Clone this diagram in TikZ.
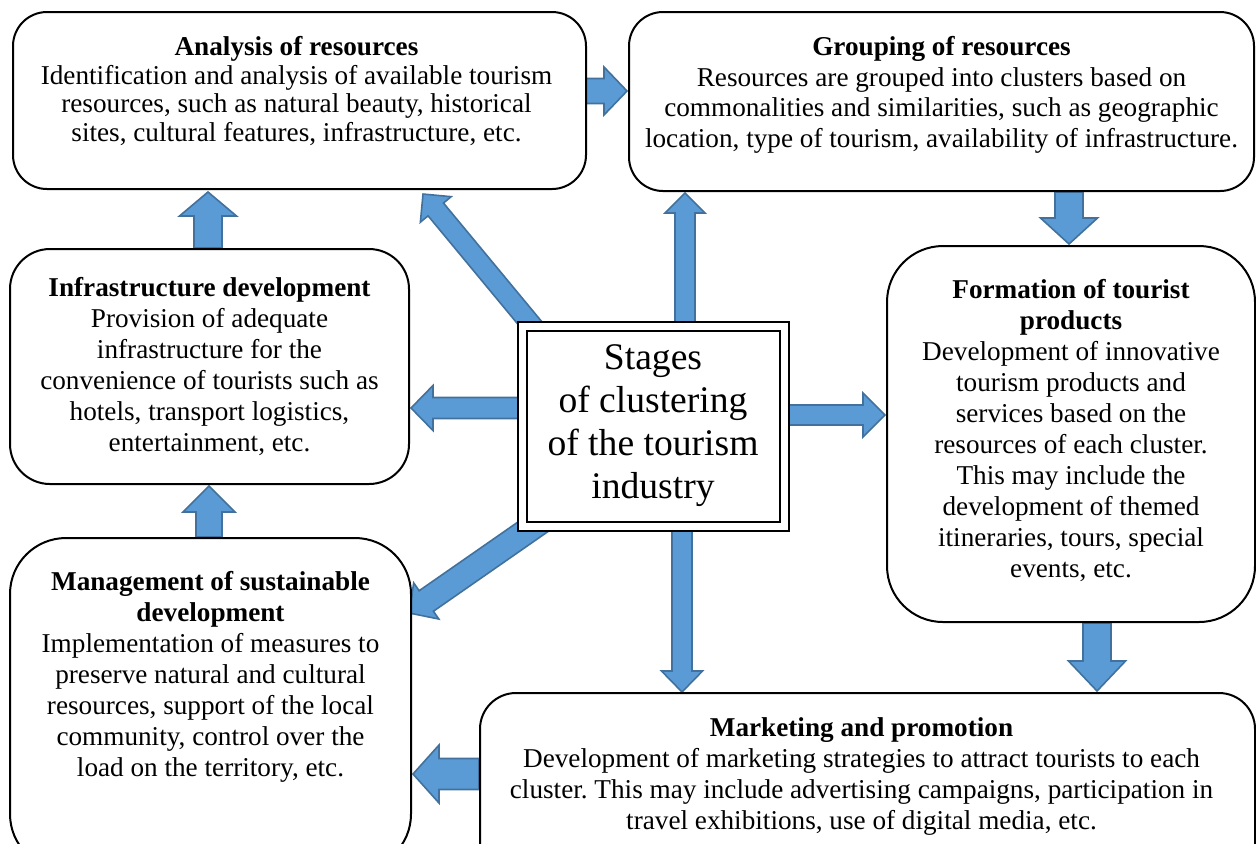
\documentclass[tikz,border=0pt]{standalone}
\usepackage{fontspec}
\setmainfont{Liberation Serif}
\usetikzlibrary{calc,backgrounds}
\frenchspacing

\definecolor{arrowfill}{HTML}{5B9BD5}
\definecolor{arrowline}{HTML}{41719C}

\tikzset{
  stagebox/.style={draw, line width=1pt, fill=white, rounded corners=#1, inner sep=0pt},
  stagetext/.style={anchor=north, align=center, inner sep=0pt, font=\fontsize{13.6}{#1}\selectfont},
  stagetext/.default=15.5pt,
  arrshaft/.store in=\arrshaftw, arrhead/.store in=\arrheadw, arrlen/.store in=\arrlenw,
  arrshaft=5pt, arrhead=10pt, arrlen=10pt,
  blockarrow/.style={draw=arrowline, fill=arrowfill, line width=0.8pt, line join=miter,
    to path={let \p1=(\tikztostart), \p2=(\tikztotarget),
      \n1={atan2(\y2-\y1,\x2-\x1)}, \n2={veclen(\x2-\x1,\y2-\y1)} in
      ([shift={(\p1)},rotate=\n1]0pt,-\arrshaftw)
      -- ([shift={(\p1)},rotate=\n1]\n2-\arrlenw+0pt,-\arrshaftw)
      -- ([shift={(\p1)},rotate=\n1]\n2-\arrlenw+0pt,-\arrheadw)
      -- ([shift={(\p1)},rotate=\n1]\n2+0pt,0pt)
      -- ([shift={(\p1)},rotate=\n1]\n2-\arrlenw+0pt,\arrheadw)
      -- ([shift={(\p1)},rotate=\n1]\n2-\arrlenw+0pt,\arrshaftw)
      -- ([shift={(\p1)},rotate=\n1]0pt,\arrshaftw) -- cycle}}
}

\begin{document}
\begin{tikzpicture}[x=0.5pt,y=-0.5pt]
  \useasboundingbox (0,0) rectangle (1256,843);
  \clip (0,0) rectangle (1256,843);

  \node[stagebox=17pt, minimum width=286.5pt, minimum height=88.5pt] (ana) at (299.5,100.5) {};
  \node[stagebox=17pt, minimum width=312.5pt, minimum height=89.5pt] (grp) at (941.5,101.5) {};
  \node[stagebox=20pt, minimum width=199.5pt, minimum height=117.5pt] (inf) at (209.5,366.5) {};
  \node[stagebox=28pt, minimum width=184pt, minimum height=188pt] (frm) at (1071,434) {};
  \node[stagebox=28pt, minimum width=200.5pt, minimum height=166pt] (mgt) at (210.5,704) {};
  \node[stagebox=18pt, minimum width=387.5pt, minimum height=93.5pt] (mkt) at (867.5,786.5) {};

  \node[draw, double, double distance=3.5pt, line width=1pt, fill=white,
    minimum width=131pt, minimum height=100pt, align=center, inner sep=0pt,
    font=\fontsize{18.8}{21.5}\selectfont] (cen) at (653,426)
    {Stages\\of clustering\\of the tourism\\industry};

  \node[stagetext=14.3pt] (ana-t) at ($(ana.north)+(-3,25)$)
    {\textbf{Analysis of resources}\\Identification and analysis of available tourism\\resources, such as natural beauty, historical\\sites, cultural features, infrastructure, etc.};
  \node[stagetext=15.3pt] (grp-t) at ($(grp.north)+(0,25)$)
    {\textbf{Grouping of resources}\\Resources are grouped into clusters based on\\commonalities and similarities, such as geographic\\location, type of tourism, availability of infrastructure.};
  \node[stagetext] (inf-t) at ($(inf.north)+(0,28.5)$)
    {\textbf{Infrastructure development}\\Provision of adequate\\infrastructure for the\\convenience of tourists such as\\hotels, transport logistics,\\entertainment, etc.};
  \node[stagetext] (frm-t) at ($(frm.north)+(0,33.5)$)
    {\textbf{Formation of tourist}\\\textbf{products}\\Development of innovative\\tourism products and\\services based on the\\resources of each cluster.\\This may include the\\development of themed\\itineraries, tours, special\\events, etc.};
  \node[stagetext] (mgt-t) at ($(mgt.north)+(0,33.5)$)
    {\textbf{Management of sustainable}\\\textbf{development}\\Implementation of measures to\\preserve natural and cultural\\resources, support of the local\\community, control over the\\load on the territory, etc.};
  \node[stagetext] (mkt-t) at ($(mkt.north)+(-6,25)$)
    {\textbf{Marketing and promotion}\\Development of marketing strategies to attract tourists to each\\cluster. This may include advertising campaigns, participation in\\travel exhibitions, use of digital media, etc.};

  \begin{scope}[on background layer]
    \draw[blockarrow, arrshaft=6.25pt, arrhead=12pt, arrlen=11.5pt] ($(ana.east)+(-2,-9.5)$) to ($(grp.west)+(-1,-10.5)$);
    \draw[blockarrow, arrshaft=7pt, arrhead=14.25pt, arrlen=13pt] ($(grp.south)+(127.5,0)$) to ($(frm.north)+(-2,-1)$);
    \draw[blockarrow, arrshaft=7pt, arrhead=14.25pt, arrlen=12pt] ($(inf.north)+(-1.5,0)$) to ($(ana.south)+(-91.5,2)$);
    \draw[blockarrow, arrshaft=6.5pt, arrhead=13pt, arrlen=13pt] ($(mgt.north)+(-1.5,0)$) to ($(inf.south)+(-0.5,1)$);
    \draw[blockarrow, arrshaft=7pt, arrhead=14.25pt, arrlen=15pt] ($(frm.south)+(26,0)$) to ($(mkt.north)+(229.5,-1)$);
    \draw[blockarrow, arrshaft=7.75pt, arrhead=14.5pt, arrlen=13pt] ($(mkt.west)+(0,-12.5)$) to ($(mgt.east)+(1,70)$);

    \draw[blockarrow] ($(cen.north)+(32,10)$) to ($(grp.south)+(-256.5,1)$);
    \draw[blockarrow, arrhead=10.25pt, arrlen=10.5pt] ($(cen.south)+(29,-10)$) to ($(mkt.north)+(-185.5,0)$);
    \draw[blockarrow, arrshaft=5.25pt, arrhead=11.25pt, arrlen=11pt] ($(cen.west)+(10,-18)$) to ($(inf.east)+(1,41.5)$);
    \draw[blockarrow, arrhead=11pt, arrlen=11pt] ($(cen.east)+(-10,-11)$) to ($(frm.west)+(-1,-19)$);
    \draw[blockarrow] ($(cen.north west)+(18,9)$) to ($(ana.south)+(123.5,4)$);
    \draw[blockarrow, arrshaft=6.25pt, arrhead=11pt, arrlen=10.5pt] ($(cen.south west)+(26,-10)$) to ($(mgt.east)+(-3,-91)$);
  \end{scope}
\end{tikzpicture}
\end{document}
